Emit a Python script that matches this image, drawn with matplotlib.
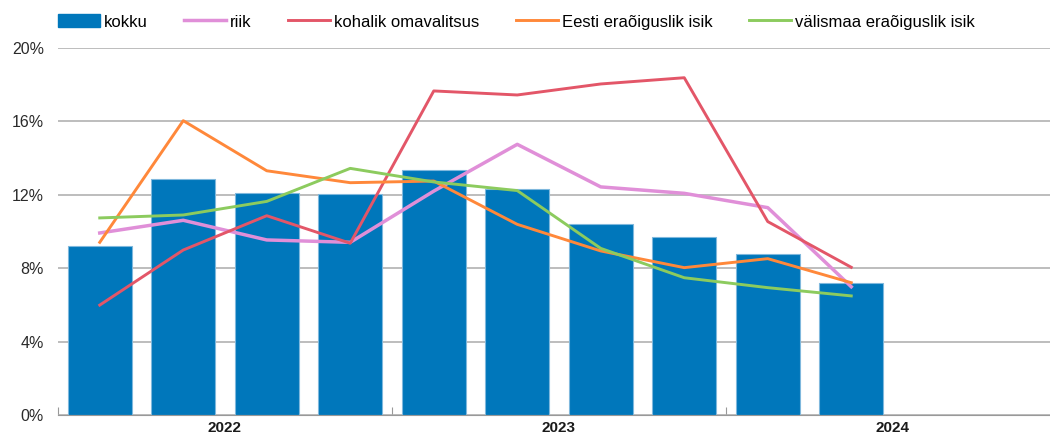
import matplotlib.pyplot as plt
import numpy as np
from matplotlib.patches import Patch
from matplotlib.lines import Line2D

plt.rcParams["font.family"] = ["Liberation Sans", "DejaVu Sans"]

years = ["2022", "2023", "2024"]
n_slots = 12  # quarters 2022 Q1 .. 2024 Q4

kokku = [9.2, 12.85, 12.12, 12.04, 13.33, 12.33, 10.39, 9.70, 8.76, 7.18]
riik = [9.92, 10.61, 9.54, 9.41, 12.2, 14.75, 12.43, 12.08, 11.3, 6.99]
kohalik = [5.99, 8.99, 10.86, 9.36, 17.66, 17.44, 18.04, 18.38, 10.54, 8.05]
eesti = [9.41, 16.04, 13.31, 12.66, 12.75, 10.39, 8.94, 8.03, 8.52, 7.21]
valismaa = [10.74, 10.9, 11.64, 13.44, 12.7, 12.23, 9.08, 7.48, 6.94, 6.49]

C_BAR = "#0077BB"
C_RIIK = "#E08FD8"
C_KOH = "#E35668"
C_EESTI = "#FF883A"
C_VAL = "#8CCB5E"


def main() -> None:
    fig = plt.figure(figsize=(10.5, 4.36), dpi=100)
    ax = fig.add_axes([58 / 1050, 21 / 436, 1002 / 1050, 367 / 436])

    x = np.arange(len(kokku))
    ax.bar(x, kokku, width=0.77, color=C_BAR, edgecolor="#7FB8DD", linewidth=0.8, zorder=2)
    ax.plot(x, riik, color=C_RIIK, lw=2.5, zorder=3)
    ax.plot(x, kohalik, color=C_KOH, lw=2.1, zorder=3)
    ax.plot(x, eesti, color=C_EESTI, lw=2.1, zorder=3)
    ax.plot(x, valismaa, color=C_VAL, lw=2.1, zorder=3)

    ax.set_xlim(-0.5, n_slots - 0.5)
    ax.set_ylim(0, 20)
    ax.set_yticks([0, 4, 8, 12, 16, 20])
    ax.set_yticklabels(["0%", "4%", "8%", "12%", "16%", "20%"], fontsize=11.5, color="#2A2A2A")
    ax.tick_params(axis="y", length=0, pad=10)
    ax.yaxis.grid(True, color="#ABABAB", lw=1.1, zorder=0)
    ax.set_axisbelow(True)

    ax.set_xticks([-0.5, 3.5, 7.5])
    ax.set_xticklabels([])
    ax.tick_params(axis="x", which="major", direction="in", length=6, color="#999999")
    ax.set_xticks([1.5, 5.5, 9.5], minor=True)
    ax.set_xticklabels(years, minor=True, fontsize=11, fontweight="bold", color="#1A1A1A")
    ax.tick_params(axis="x", which="minor", length=0, pad=4)

    for s in ["top", "right", "left"]:
        ax.spines[s].set_visible(False)
    ax.spines["bottom"].set_color("#999999")

    handles = [
        Patch(facecolor=C_BAR, edgecolor=C_BAR),
        Line2D([], [], color=C_RIIK, lw=2.5),
        Line2D([], [], color=C_KOH, lw=2.1),
        Line2D([], [], color=C_EESTI, lw=2.1),
        Line2D([], [], color=C_VAL, lw=2.1),
    ]
    labels = ["kokku", "riik", "kohalik omavalitsus", "Eesti eraõiguslik isik",
              "välismaa eraõiguslik isik"]
    fig.legend(handles, labels, loc="center left", bbox_to_anchor=(58 / 1050, 1 - 22 / 436),
               ncol=5, frameon=False, fontsize=12, handlelength=2.5,
               handletextpad=0.25, columnspacing=2.2, handleheight=0.8,
               borderpad=0, borderaxespad=0)

    fig.savefig("out.png", dpi=100)
    plt.close(fig)


if __name__ == "__main__":
    main()
